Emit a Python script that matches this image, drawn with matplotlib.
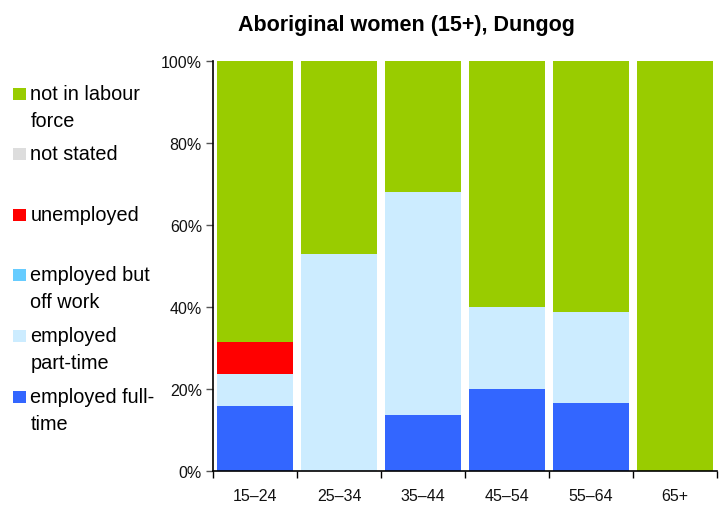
import matplotlib
matplotlib.use("Agg")
import matplotlib.pyplot as plt
from matplotlib.patches import Rectangle
import numpy as np

plt.rcParams['font.family'] = ['Liberation Sans', 'DejaVu Sans']

categories = ["15–24", "25–34", "35–44", "45–54", "55–64", "65+"]
employed_full_time = [15.8, 0.0, 13.7, 20.0, 16.7, 0.0]
employed_part_time = [7.9, 52.9, 54.3, 20.0, 22.2, 0.0]
employed_off_work = [0.0, 0.0, 0.0, 0.0, 0.0, 0.0]
unemployed = [7.9, 0.0, 0.0, 0.0, 0.0, 0.0]
not_stated = [0.0, 0.0, 0.0, 0.0, 0.0, 0.0]
not_in_labour_force = [68.4, 47.1, 32.0, 60.0, 61.1, 100.0]

series = [
    ("employed full-time", employed_full_time, "#3366FF"),
    ("employed part-time", employed_part_time, "#CCECFF"),
    ("employed but off work", employed_off_work, "#66CCFF"),
    ("unemployed", unemployed, "#FF0000"),
    ("not stated", not_stated, "#DDDDDD"),
    ("not in labour force", not_in_labour_force, "#99CC00"),
]

fig = plt.figure(figsize=(7.27, 5.06), dpi=100)
ax = fig.add_axes([213/727, 1-472/506, (717-213)/727, (472-62.3)/506])

x = np.arange(len(categories))
bottom = np.zeros(len(categories))
for name, vals, col in series:
    vals = np.array(vals)
    ax.bar(x, vals, bottom=bottom, width=0.915, color=col, edgecolor='none', linewidth=0)
    bottom += vals

ax.set_xlim(-0.5, len(categories) - 0.5)
ax.set_ylim(0, 100)
ax.set_yticks([0, 20, 40, 60, 80, 100])
ax.set_yticklabels([f"{v}%" for v in [0, 20, 40, 60, 80, 100]], fontsize=11.5, color='#111111')
ax.set_xticks(x)
ax.set_xticklabels(categories, fontsize=11.5, color='#111111')
ax.set_xticks(np.arange(len(categories) + 1) - 0.5, minor=True)
ax.tick_params(axis='x', which='major', length=0, pad=12)
ax.tick_params(axis='x', which='minor', length=5, width=1, color='black', direction='out')
ax.tick_params(axis='y', which='major', length=5, width=1, color='#555555', direction='out', pad=3)
for s in ['top', 'right']:
    ax.spines[s].set_visible(False)
for s in ['left', 'bottom']:
    ax.spines[s].set_color('black')
    ax.spines[s].set_linewidth(1.2)

fig.text(406/727, 1-25/506, "Aboriginal women (15+), Dungog", ha='center', va='center',
         fontsize=15.5, fontweight='bold')

# legend (manual)
legend_items = [
    ("not in labour\nforce", "#99CC00", 95),
    ("not stated", "#DDDDDD", 155),
    ("unemployed", "#FF0000", 216),
    ("employed but\noff work", "#66CCFF", 276),
    ("employed\npart-time", "#CCECFF", 337),
    ("employed full-\ntime", "#3366FF", 398),
]
for label, col, yc in legend_items:
    fig.patches.append(Rectangle((13.3/727, 1-(yc+6.3)/506), 12.5/727, 12.5/506,
                                 transform=fig.transFigure, facecolor=col, edgecolor='none'))
    lines = label.split("\n")
    for i, ln in enumerate(lines):
        fig.text(30.5/727, 1-(yc + 26.5*i)/506, ln, ha='left', va='center', fontsize=14.3,
                 color='black')

fig.savefig("out.png", dpi=100)
